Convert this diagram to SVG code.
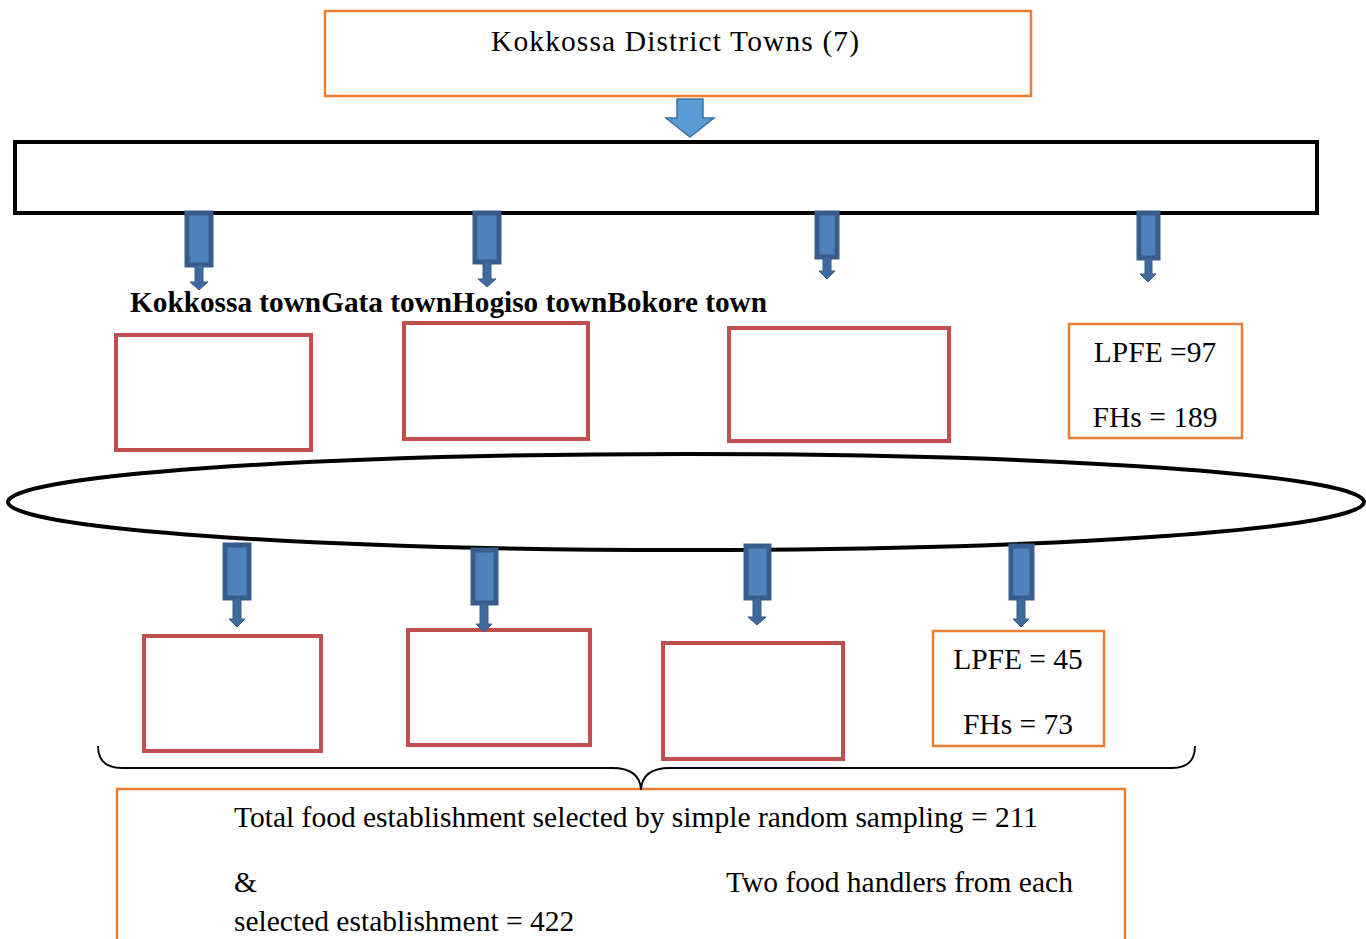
<svg xmlns="http://www.w3.org/2000/svg" width="1366" height="939" viewBox="0 0 1366 939">
<style>
.t{font-family:"Liberation Serif","Times New Roman",serif;font-size:29.5px;fill:#000}
.b{font-family:"Liberation Serif","Times New Roman",serif;font-size:29px;font-weight:bold;fill:#000}
.ob{fill:#fff;stroke:#ED7D31;stroke-width:2.5}
.rb{fill:#fff;stroke:#C0504D;stroke-width:4}
.ab{fill:#4F81BD;stroke:#385D8A;stroke-width:5}
.as{fill:#3F6A9E;stroke:#385D8A;stroke-width:1}
</style>
<rect width="1366" height="939" fill="#fff"/>
<g id="title">
<rect class="ob" x="325" y="11" width="706" height="85"/>
<text class="t" x="491" y="51" textLength="368" lengthAdjust="spacing">Kokkossa District Towns (7)</text>
</g>
<g id="bar">
<rect x="15" y="142" width="1302" height="71" fill="#fff" stroke="#000" stroke-width="4"/>
</g>
<g id="towns">
<text class="b" x="130" y="312" textLength="637" lengthAdjust="spacingAndGlyphs">Kokkossa townGata townHogiso townBokore town</text>
</g>
<g id="box1a"><rect class="rb" x="116" y="335" width="195" height="115"/></g>
<g id="box1b"><rect class="rb" x="404" y="323" width="184" height="116"/></g>
<g id="box1c"><rect class="rb" x="729" y="328" width="220" height="113"/></g>
<g id="box1d">
<rect class="ob" x="1069" y="324" width="173" height="114"/>
<text class="t" x="1155" y="362" text-anchor="middle">LPFE =97</text>
<text class="t" x="1155" y="427" text-anchor="middle">FHs = 189</text>
</g>
<g id="ellipse">
<ellipse cx="686" cy="502" rx="678" ry="48" fill="#fff" stroke="#000" stroke-width="4"/>
</g>
<g id="box2a"><rect class="rb" x="144" y="636" width="177" height="115"/></g>
<g id="box2b"><rect class="rb" x="408" y="630" width="182" height="115"/></g>
<g id="box2c"><rect class="rb" x="663" y="643" width="180" height="116"/></g>
<g id="box2d">
<rect class="ob" x="933" y="631" width="171" height="115"/>
<text class="t" x="1018" y="669" text-anchor="middle">LPFE = 45</text>
<text class="t" x="1018" y="734" text-anchor="middle">FHs = 73</text>
</g>
<g id="total">
<rect class="ob" x="117" y="789" width="1008" height="160"/>
<text class="t" x="234" y="827">Total food establishment selected by simple random sampling = 211</text>
<text class="t" x="234" y="892">&amp;</text>
<text class="t" x="726" y="892">Two food handlers from each</text>
<text class="t" x="234" y="931">selected establishment = 422</text>
</g>
<g id="connectors">
<path d="M677,99 H703 V118 H714 L690,137 L666,118 H677 Z" fill="#5B9BD5" stroke="#41719C" stroke-width="1.5"/>
<g>
<rect class="ab" x="187" y="213" width="24" height="52"/>
<path class="as" d="M195,265 H203 V282 H208 L199,290 L190,282 H195 Z"/>
</g>
<g>
<rect class="ab" x="475" y="213" width="24" height="49"/>
<path class="as" d="M483,262 H491 V279 H496 L487,287 L478,279 H483 Z"/>
</g>
<g>
<rect class="ab" x="817" y="213" width="20" height="44"/>
<path class="as" d="M823,257 H831 V271 H835 L827,279 L819,271 H823 Z"/>
</g>
<g>
<rect class="ab" x="1139" y="213" width="19" height="45"/>
<path class="as" d="M1145,258 H1152 V274 H1156 L1148,282 L1140,274 H1145 Z"/>
</g>
<g>
<rect class="ab" x="225" y="545" width="24" height="53"/>
<path class="as" d="M233,598 H241 V619 H245 L237,627 L229,619 H233 Z"/>
</g>
<g>
<rect class="ab" x="473" y="550" width="23" height="53"/>
<path class="as" d="M480,603 H488 V624 H492 L484,632 L476,624 H480 Z"/>
</g>
<g>
<rect class="ab" x="746" y="546" width="23" height="52"/>
<path class="as" d="M753,598 H761 V617 H766 L757,625 L748,617 H753 Z"/>
</g>
<g>
<rect class="ab" x="1011" y="546" width="21" height="52"/>
<path class="as" d="M1017,598 H1025 V619 H1029 L1021,627 L1013,619 H1017 Z"/>
</g>
<path d="M98,746 Q98,768 122,768 H612 Q640,768 641,790 Q642,768 670,768 H1172 Q1195,768 1195,746" fill="none" stroke="#000" stroke-width="1.8"/>
</g>
</svg>
